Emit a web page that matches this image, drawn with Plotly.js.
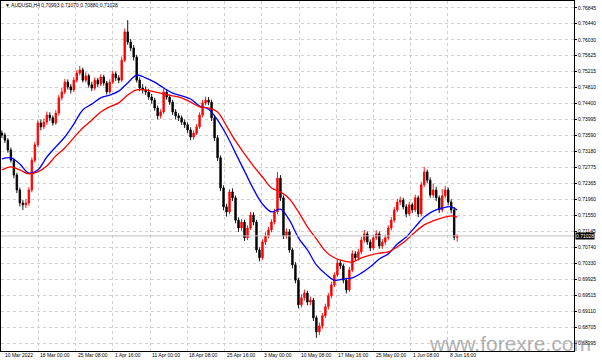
<!DOCTYPE html>
<html>
<head>
<meta charset="utf-8">
<script src="https://cdn.plot.ly/plotly-3.0.1.min.js"></script>
<style>
html,body{margin:0;padding:0;background:#fff;}
#chart{width:602px;height:361px;}
</style>
</head>
<body>
<div id="chart"></div>
<script>
// AUDUSD H4 candles
const opens = [0.7365,0.7360,0.7347,0.7322,0.7296,0.7258,0.7220,0.7187,0.7182,0.7187,
0.7220,0.7296,0.7335,0.7391,0.7381,0.7393,0.7411,0.7404,0.7391,0.7416,
0.7455,0.7470,0.7495,0.7483,0.7475,0.7500,0.7518,0.7526,0.7500,0.7511,
0.7488,0.7480,0.7500,0.7490,0.7508,0.7493,0.7470,0.7495,0.7516,0.7506,
0.7500,0.7551,0.7623,0.7597,0.7582,0.7559,0.7500,0.7480,0.7475,0.7470,
0.7457,0.7449,0.7429,0.7409,0.7419,0.7470,0.7457,0.7444,0.7419,0.7409,
0.7404,0.7393,0.7386,0.7373,0.7355,0.7365,0.7381,0.7411,0.7442,0.7449,
0.7444,0.7404,0.7353,0.7302,0.7225,0.7177,0.7164,0.7215,0.7200,0.7143,
0.7123,0.7138,0.7098,0.7123,0.7156,0.7138,0.7067,0.7047,0.7087,0.7103,
0.7118,0.7138,0.7164,0.7250,0.7200,0.7103,0.7113,0.7067,0.7029,0.6990,
0.6927,0.6945,0.6957,0.6934,0.6939,0.6894,0.6858,0.6873,0.6899,0.6922,
0.6950,0.6978,0.7003,0.7034,0.7026,0.6990,0.6965,0.7016,0.7057,0.7047,
0.7062,0.7092,0.7108,0.7087,0.7072,0.7098,0.7108,0.7077,0.7087,0.7098,
0.7123,0.7143,0.7169,0.7189,0.7194,0.7177,0.7159,0.7182,0.7169,0.7200,
0.7159,0.7233,0.7266,0.7245,0.7207,0.7220,0.7200,0.7169,0.7205,0.7220,
0.7189,0.7169,0.70993];
const highs = [0.7372,0.7366,0.7352,0.7328,0.7301,0.7264,0.7226,0.7195,0.7196,0.7227,
0.7303,0.7343,0.7398,0.7400,0.7402,0.7420,0.7418,0.7410,0.7424,0.7462,
0.7480,0.7503,0.7502,0.7490,0.7508,0.7526,0.7536,0.7532,0.7520,0.7516,
0.7496,0.7507,0.7506,0.7515,0.7514,0.7498,0.7502,0.7524,0.7522,0.7513,
0.7560,0.7632,0.7653,0.7605,0.7590,0.7565,0.7507,0.7490,0.7484,0.7478,
0.7465,0.7455,0.7435,0.7426,0.7478,0.7477,0.7463,0.7450,0.7426,0.7416,
0.7410,0.7400,0.7392,0.7380,0.7372,0.7388,0.7418,0.7450,0.7458,0.7457,
0.7450,0.7410,0.7360,0.7308,0.7232,0.7185,0.7222,0.7224,0.7206,0.7150,
0.7146,0.7144,0.7130,0.7164,0.7163,0.7144,0.7074,0.7094,0.7112,0.7126,
0.7145,0.7172,0.7266,0.7258,0.7206,0.7122,0.7120,0.7073,0.7036,0.6996,
0.6954,0.6966,0.6963,0.6948,0.6945,0.6900,0.6882,0.6906,0.6930,0.6957,
0.6986,0.7010,0.7043,0.7042,0.7032,0.6996,0.7024,0.7066,0.7064,0.7070,
0.7100,0.7118,0.7114,0.7094,0.7106,0.7117,0.7114,0.7095,0.7106,0.7130,
0.7151,0.7177,0.7197,0.7203,0.7200,0.7184,0.7190,0.7188,0.7208,0.7206,
0.7241,0.7279,0.7272,0.7252,0.7236,0.7228,0.7206,0.7222,0.7230,0.7226,
0.7196,0.7176,0.71070];
const lows = [0.7352,0.7340,0.7315,0.7290,0.7250,0.7212,0.7178,0.7169,0.7174,0.7180,
0.7214,0.7290,0.7330,0.7372,0.7375,0.7386,0.7396,0.7384,0.7386,0.7410,
0.7448,0.7464,0.7476,0.7466,0.7470,0.7494,0.7512,0.7494,0.7494,0.7481,
0.7472,0.7474,0.7483,0.7485,0.7486,0.7463,0.7465,0.7490,0.7498,0.7492,
0.7495,0.7546,0.7590,0.7574,0.7550,0.7494,0.7472,0.7466,0.7462,0.7450,
0.7440,0.7422,0.7400,0.7402,0.7414,0.7450,0.7437,0.7411,0.7400,0.7396,
0.7386,0.7378,0.7365,0.7347,0.7348,0.7360,0.7376,0.7405,0.7436,0.7436,
0.7396,0.7345,0.7294,0.7217,0.7168,0.7152,0.7158,0.7192,0.7135,0.7113,
0.7116,0.7090,0.7092,0.7118,0.7130,0.7060,0.7038,0.7042,0.7080,0.7097,
0.7112,0.7132,0.7158,0.7192,0.7095,0.7096,0.7060,0.7020,0.6982,0.6918,
0.6920,0.6938,0.6926,0.6926,0.6886,0.6843,0.6850,0.6866,0.6893,0.6915,
0.6944,0.6972,0.6998,0.7018,0.6982,0.6956,0.6960,0.7010,0.7040,0.7040,
0.7056,0.7086,0.7080,0.7064,0.7066,0.7092,0.7070,0.7070,0.7080,0.7092,
0.7117,0.7137,0.7163,0.7182,0.7170,0.7150,0.7153,0.7161,0.7163,0.7151,
0.7153,0.7227,0.7238,0.7200,0.7200,0.7192,0.7161,0.7163,0.7198,0.7181,
0.7160,0.7092,0.70880];
const closes = [0.7360,0.7347,0.7322,0.7296,0.7258,0.7220,0.7187,0.7182,0.7187,0.7220,
0.7296,0.7335,0.7391,0.7381,0.7393,0.7411,0.7404,0.7391,0.7416,0.7455,
0.7470,0.7495,0.7483,0.7475,0.7500,0.7518,0.7526,0.7500,0.7511,0.7488,
0.7480,0.7500,0.7490,0.7508,0.7493,0.7470,0.7495,0.7516,0.7506,0.7500,
0.7551,0.7623,0.7597,0.7582,0.7559,0.7500,0.7480,0.7475,0.7470,0.7457,
0.7449,0.7429,0.7409,0.7419,0.7470,0.7457,0.7444,0.7419,0.7409,0.7404,
0.7393,0.7386,0.7373,0.7355,0.7365,0.7381,0.7411,0.7442,0.7449,0.7444,
0.7404,0.7353,0.7302,0.7225,0.7177,0.7164,0.7215,0.7200,0.7143,0.7123,
0.7138,0.7098,0.7123,0.7156,0.7138,0.7067,0.7047,0.7087,0.7103,0.7118,
0.7138,0.7164,0.7250,0.7200,0.7103,0.7113,0.7067,0.7029,0.6990,0.6927,
0.6945,0.6957,0.6934,0.6939,0.6894,0.6858,0.6873,0.6899,0.6922,0.6950,
0.6978,0.7003,0.7034,0.7026,0.6990,0.6965,0.7016,0.7057,0.7047,0.7062,
0.7092,0.7108,0.7087,0.7072,0.7098,0.7108,0.7077,0.7087,0.7098,0.7123,
0.7143,0.7169,0.7189,0.7194,0.7177,0.7159,0.7182,0.7169,0.7200,0.7159,
0.7233,0.7266,0.7245,0.7207,0.7220,0.7200,0.7169,0.7205,0.7220,0.7189,
0.7169,0.70993,0.71028];

// Moving averages, sampled at candle indices
const maIndex = [0,3,6,9,12,15,18,21,24,27,30,33,36,39,42,45,48,51,54,57,60,63,66,69,72,75,
78,81,84,87,90,93,96,99,102,105,108,111,114,117,120,123,126,129,132,135,138,141,144,147,150,152];
const blueMA = [0.7299,0.7302,0.7286,0.7263,0.7271,0.7304,0.7330,0.7355,0.7388,0.7424,0.7439,0.7455,0.7462,
0.7472,0.7493,0.7513,0.7506,0.7495,0.7480,0.7467,0.7460,0.7452,0.7434,0.7426,0.7398,0.7360,
0.7314,0.7268,0.7222,0.7184,0.7164,0.7171,0.7143,0.7098,0.7067,0.7029,0.7006,0.6990,0.6993,
0.6996,0.7008,0.7024,0.7044,0.7057,0.7082,0.7100,0.7126,0.7151,0.7166,0.7174,0.7177,0.7169];
const redMA = [0.7271,0.7279,0.7271,0.7261,0.7266,0.7281,0.7307,0.7327,0.7353,0.7378,0.7398,0.7419,0.7432,
0.7442,0.7462,0.7475,0.7475,0.7470,0.7465,0.7460,0.7455,0.7444,0.7432,0.7429,0.7419,0.7383,
0.7345,0.7312,0.7281,0.7253,0.7225,0.7215,0.7197,0.7164,0.7126,0.7095,0.7064,0.7047,0.7039,
0.7036,0.7047,0.7054,0.7059,0.7062,0.7075,0.7092,0.7113,0.7131,0.7141,0.7149,0.7154,0.7151];

// Axis labels
const priceTicks = [0.76845,0.76440,0.76030,0.75625,0.75215,0.74810,0.74400,0.73995,0.73590,0.73180,0.72775,
0.72365,0.71960,0.71550,0.71145,0.70740,0.70330,0.69925,0.69515,0.69110,0.68705,0.68295];
const priceTickText = ["0.76845","0.76440","0.76030","0.75625","0.75215","0.74810","0.74400","0.73995","0.73590","0.73180","0.72775",
"0.72365","0.71960","0.71550","0.71145","0.70740","0.70330","0.69925","0.69515","0.69110","0.68705","0.68295"];
const timeTickText = ["10 Mar 2022","18 Mar 00:00","25 Mar 08:00","1 Apr 16:00","11 Apr 00:00","18 Apr 08:00",
"25 Apr 16:00","3 May 00:00","10 May 08:00","17 May 16:00","25 May 00:00","1 Jun 08:00","8 Jun 16:00"];
const timeTickPos = [0,12.17,24.6,37.03,49.47,61.9,74.33,86.77,99.2,111.63,124.07,136.5,148.93];

const idx = closes.map((_, i) => i);
const last = closes.length - 1;
const FONT = "Liberation Sans, Arial, sans-serif";

const traces = [
  {
    type: 'candlestick', x: idx, open: opens, high: highs, low: lows, close: closes,
    increasing: {line: {color: '#ff0000', width: 0.9}, fillcolor: '#ff0000'},
    decreasing: {line: {color: '#000000', width: 0.9}, fillcolor: '#000000'},
    whiskerwidth: 0, hoverinfo: 'skip', showlegend: false
  },
  {type: 'scatter', mode: 'lines', x: maIndex, y: blueMA, line: {color: '#0000ff', width: 1.3, shape: 'spline'}, hoverinfo: 'skip', showlegend: false},
  {type: 'scatter', mode: 'lines', x: maIndex, y: redMA, line: {color: '#ff0000', width: 1.3, shape: 'spline'}, hoverinfo: 'skip', showlegend: false}
];

const timeLabels = timeTickText.map((t, i) => ({
  xref: 'x', yref: 'paper', x: timeTickPos[i], y: -0.011, xanchor: 'left', yanchor: 'middle',
  xshift: i === 0 ? 1 : 0, showarrow: false, text: t,
  font: {family: FONT, size: 5, color: '#000'}
}));

const layout = {
  width: 602, height: 361,
  margin: {l: 1, r: 28, t: 1, b: 10, pad: 0},
  paper_bgcolor: '#ffffff', plot_bgcolor: '#ffffff',
  showlegend: false,
  xaxis: {
    range: [-0.3, 191], rangeslider: {visible: false}, fixedrange: true,
    tickmode: 'array', tickvals: timeTickPos, showticklabels: false, ticks: '',
    showgrid: true, gridcolor: '#d0d0d0', griddash: 'dot', gridwidth: 1,
    showline: true, linecolor: '#000', linewidth: 1, mirror: true,
    zeroline: false
  },
  yaxis: {
    side: 'right', range: [0.68093, 0.77019], fixedrange: true,
    tickmode: 'array', tickvals: priceTicks, ticktext: priceTickText,
    ticks: 'outside', ticklen: 2, tickcolor: '#000',
    tickfont: {family: FONT, size: 5, color: '#000'},
    showgrid: true, gridcolor: '#d0d0d0', griddash: 'dot', gridwidth: 1,
    showline: true, linecolor: '#000', linewidth: 1, mirror: true,
    zeroline: false
  },
  shapes: [
    {type: 'line', xref: 'paper', x0: 0, x1: 1, yref: 'y', y0: closes[last], y1: closes[last],
     line: {color: '#c0c0c0', width: 1}}
  ],
  annotations: timeLabels.concat([
    {xref: 'paper', yref: 'paper', x: 0.003, y: 0.989, xanchor: 'left', yanchor: 'middle', showarrow: false,
     text: '\u25BC AUDUSD,H4 ' + opens[last].toFixed(5) + ' ' + highs[last].toFixed(5) + ' ' + lows[last].toFixed(5) + ' ' + closes[last].toFixed(5),
     font: {family: FONT, size: 5, color: '#000'}},
    {xref: 'paper', yref: 'y', x: 1.002, y: closes[last], xanchor: 'left', yanchor: 'middle', showarrow: false,
     text: closes[last].toFixed(5), bgcolor: '#000000', borderpad: 0,
     font: {family: FONT, size: 5, color: '#ffffff'}},
    {xref: 'paper', yref: 'paper', x: 1.033, y: 0.022, xanchor: 'right', yanchor: 'middle', showarrow: false,
     text: 'www.forexre.com', opacity: 0.6,
     font: {family: FONT, size: 21, color: '#808080'}}
  ])
};

Plotly.newPlot('chart', traces, layout, {displayModeBar: false, staticPlot: true});
</script>
</body>
</html>
